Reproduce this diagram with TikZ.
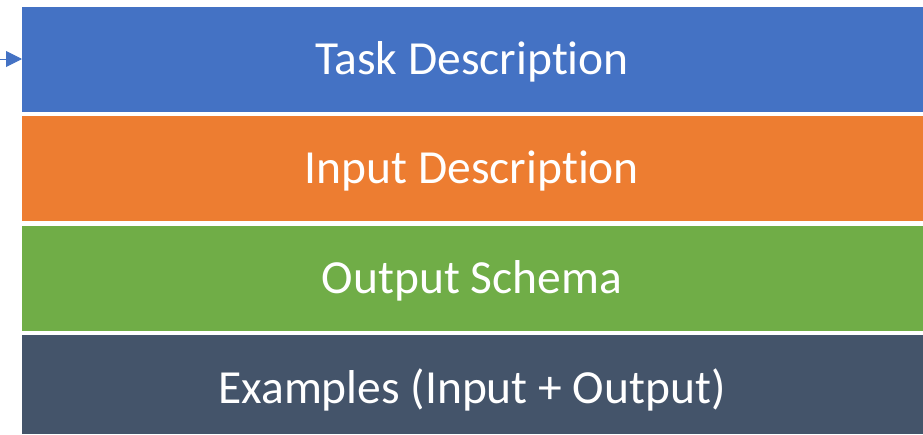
\documentclass[tikz,border=0pt]{standalone}
\usepackage{fontspec}
\setmainfont[Ligatures=NoCommon]{Carlito}
\usetikzlibrary{arrows.meta}
\definecolor{layerblue}{HTML}{4472C4}
\definecolor{layerorange}{HTML}{ED7D31}
\definecolor{layergreen}{HTML}{70AD47}
\definecolor{layerslate}{HTML}{44546A}
\begin{document}
\begin{tikzpicture}[x=1pt,y=-1pt,
  label text/.style={text=white, anchor=base, inner sep=0pt, font=\fontsize{47.5}{56}\selectfont},
]
\useasboundingbox (0,0) rectangle (923,434);
% stacked layers
\fill[layerblue]   (22,7)   rectangle (923,112);
\fill[layerorange] (22,116) rectangle (923,221);
\fill[layergreen]  (22,226) rectangle (923,331);
\fill[layerslate]  (22,335) rectangle (923,434);
\node[label text] (task) at (472,74) {Task Description};
\node[label text] (input) at (472,183) {Input Description};
\node[label text] (output) at (472,293) {Output Schema};
\node[label text] (examples) at (472,403) {Examples (Input + Output)};
% incoming arrow
\coordinate (src) at (0,59);
\coordinate (dst) at (22,59);
\draw[layerblue, line width=1pt, -{Triangle[length=16pt,width=16pt]}] (src) -- (dst);
\end{tikzpicture}
\end{document}
